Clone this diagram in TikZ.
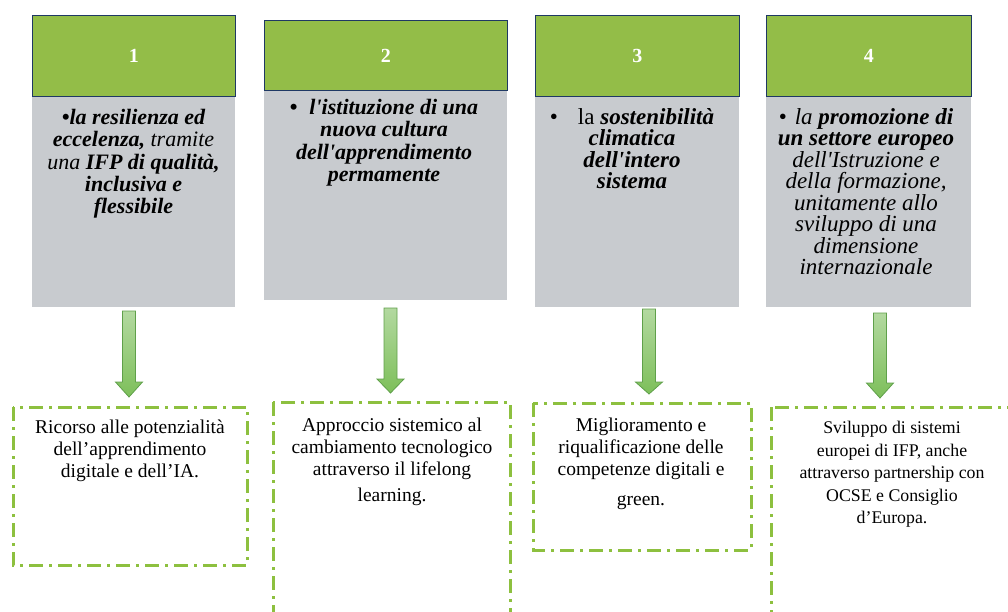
\documentclass[tikz,border=0pt]{standalone}
\usepackage{fontspec}
\setmainfont{Liberation Serif}
\definecolor{hdrgreen}{HTML}{93BD48}
\definecolor{hdrline}{HTML}{1F3864}
\definecolor{bodygray}{HTML}{C8CBCF}
\definecolor{arrfill}{HTML}{7DBF5A}
\definecolor{arrtop}{HTML}{B3D9A0}
\definecolor{arrline}{HTML}{5FA04A}
\definecolor{dashgreen}{HTML}{8DC03F}
\newcommand{\q}{\textquotesingle}
\tikzset{
  hdr/.style={fill=hdrgreen,draw=hdrline,line width=0.8pt,text=white,font=\fontsize{20}{22}\selectfont\bfseries},
  bodytxt/.style={align=center,font=\fontsize{22}{22.3}\selectfont,anchor=north,inner sep=2pt},
  bodytxtb/.style={align=center,font=\fontsize{23}{21.5}\selectfont,anchor=north,inner sep=2pt},
  resbox/.style={draw=dashgreen,line width=3pt,dash pattern=on 14pt off 6pt on 3pt off 6pt},
  restxt/.style={align=center,font=\fontsize{19.5}{22}\selectfont,anchor=north},
  restxtd/.style={align=center,font=\fontsize{17.8}{22.5}\selectfont,anchor=north},
  bigarrow/.style={draw=arrline,line width=0.8pt,top color=arrtop,bottom color=arrfill}
}
\newcommand{\downarr}[5]{% name, x center, y top, y headbase, y tip
  \draw[bigarrow] (#2-6.5,#3) -- (#2+6.5,#3) -- (#2+6.5,#4) -- (#2+13.5,#4) -- (#2,#5) -- (#2-13.5,#4) -- (#2-6.5,#4) -- cycle;
  \coordinate (#1) at (#2,#5);
}
\begin{document}
\begin{tikzpicture}[x=1pt,y=-1pt]
\useasboundingbox (0,0) rectangle (1008,612);
\clip (0,0) rectangle (1008,612);
% column 1
\fill[bodygray] (32,96) rectangle (235,307);
\node[hdr,minimum width=203pt,minimum height=81pt,anchor=north west] (h1) at (32,15) {1};
\node[bodytxt] (t1) at (133.5,107) {\bfseries\itshape \textbullet la resilienza ed\\
\bfseries\itshape eccelenza, \mdseries tramite\\
\itshape una \bfseries IFP di qualità,\\
\bfseries\itshape inclusiva e\\
\bfseries\itshape flessibile};
% column 2
\fill[bodygray] (264,90) rectangle (507,300);
\node[hdr,minimum width=243pt,minimum height=70pt,anchor=north west] (h2) at (264,20) {2};
\node[bodytxt] (t2) at (384,97) {\bfseries\itshape {\upshape\textbullet}\hspace{12pt}l\q istituzione di una\\
\bfseries\itshape nuova cultura\\
\bfseries\itshape dell\q apprendimento\\
\bfseries\itshape permamente};
% column 3
\fill[bodygray] (535,96) rectangle (739,307);
\node[hdr,minimum width=204pt,minimum height=81pt,anchor=north west] (h3) at (535,15) {3};
\node[bodytxtb] (t3) at (632,106) {\textbullet\hspace{20pt}la \bfseries\itshape sostenibilità\\
\bfseries\itshape climatica\\
\bfseries\itshape dell\q intero\\
\bfseries\itshape sistema};
% column 4
\fill[bodygray] (766,96) rectangle (971,307);
\node[hdr,minimum width=205pt,minimum height=81pt,anchor=north west] (h4) at (766,15) {4};
\node[bodytxtb] (t4) at (866,106) {\textbullet\hspace{8pt}\itshape la \bfseries promozione di\\
\bfseries\itshape un settore europeo\\
\itshape dell\q Istruzione e\\
\itshape della formazione,\\
\itshape unitamente allo\\
\itshape sviluppo di una\\
\itshape dimensione\\
\itshape internazionale};
% arrows
\downarr{a1}{129}{311}{382}{397}
\downarr{a2}{390.5}{308}{379}{393}
\downarr{a3}{649}{309}{382}{394}
\downarr{a4}{880}{313}{383}{398}
% result boxes
\draw[resbox] (13,407) rectangle (247,565);
\node[restxt] (r1) at (130,416.5) {Ricorso alle potenzialità\\dell’apprendimento\\digitale e dell’IA.};
\draw[resbox] (273,402) rectangle (510,640);
\node[restxt] (r2) at (392,414) {Approccio sistemico al\\cambiamento tecnologico\\attraverso il lifelong\\[4pt]learning.};
\draw[resbox] (533,403) rectangle (751,550);
\node[restxt] (r3) at (641,414) {Miglioramento e\\riqualificazione delle\\competenze digitali e\\[8pt]green.};
\draw[resbox] (771,407) rectangle (1040,640);
\node[restxtd] (r4) at (892,418) {Sviluppo di sistemi\\europei di IFP, anche\\attraverso partnership con\\OCSE e Consiglio\\d’Europa.};
\end{tikzpicture}
\end{document}
